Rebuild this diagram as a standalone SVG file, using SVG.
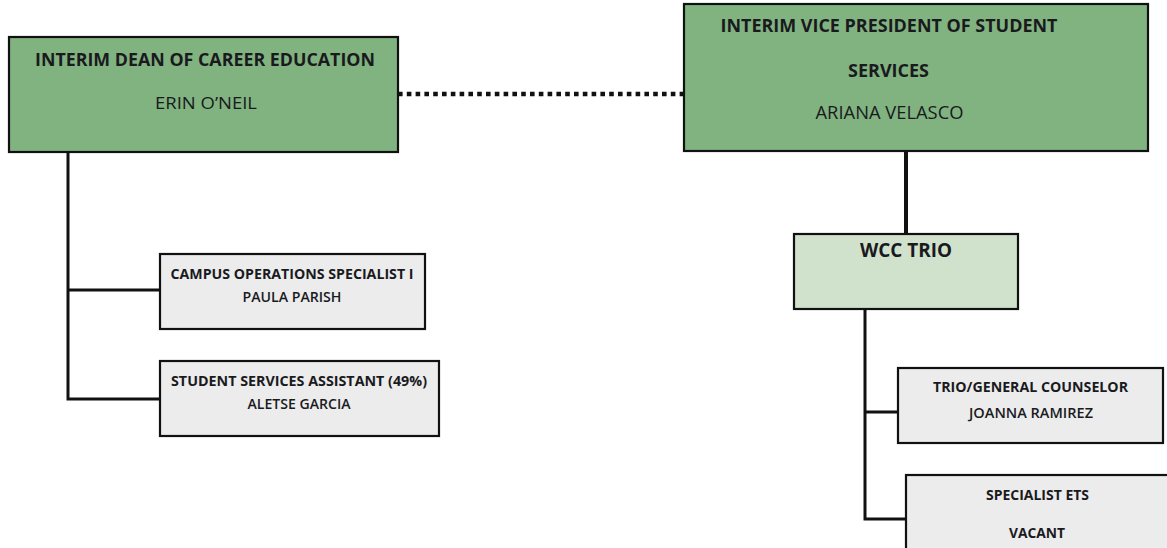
<svg xmlns="http://www.w3.org/2000/svg" width="1167" height="548" viewBox="0 0 1167 548">
  <style>
    .box { stroke: #111; stroke-width: 2.2; }
    .lead { fill: #80b380; }
    .unit { fill: #d0e2cc; }
    .staff { fill: #ececec; }
    text { font-family: "Open Sans", "Liberation Sans", sans-serif; fill: #1a1a1e; text-anchor: middle; }
    .b { font-weight: bold; }
    .link { stroke: #111; fill: none; stroke-width: 3; }
    .dotted { stroke-width: 4.6; stroke-dasharray: 4.6 4.2; }
    .trunk { stroke-width: 4; }
  </style>
  <rect width="1167" height="548" fill="#fff"/>

  <g id="connectors">
    <line class="link dotted" x1="398" y1="94" x2="684" y2="94"/>
    <line class="link trunk" x1="906" y1="151" x2="906" y2="234"/>
    <polyline class="link" points="68,152 68,399 160,399"/>
    <line class="link" x1="68" y1="290" x2="160" y2="290"/>
    <polyline class="link" points="865,310 865,519 906,519"/>
    <line class="link" x1="865" y1="412" x2="898" y2="412"/>
  </g>

  <g id="dean-career-ed">
    <rect class="box lead" x="9" y="37" width="389" height="115"/>
    <text class="b" x="205" y="66" font-size="17.5" textLength="340" lengthAdjust="spacingAndGlyphs">INTERIM DEAN OF CAREER EDUCATION</text>
    <text x="206" y="109" font-size="17" textLength="102" lengthAdjust="spacingAndGlyphs">ERIN O’NEIL</text>
  </g>

  <g id="vp-student-services">
    <rect class="box lead" x="684" y="4" width="464" height="147"/>
    <text class="b" x="889" y="31.5" font-size="18" textLength="337" lengthAdjust="spacingAndGlyphs">INTERIM VICE PRESIDENT OF STUDENT</text>
    <text class="b" x="888.5" y="76.5" font-size="18" textLength="81" lengthAdjust="spacingAndGlyphs">SERVICES</text>
    <text x="889.5" y="118.5" font-size="18" textLength="148" lengthAdjust="spacingAndGlyphs">ARIANA VELASCO</text>
  </g>

  <g id="wcc-trio">
    <rect class="box unit" x="794" y="234" width="224" height="75"/>
    <text class="b" x="906" y="257" font-size="19" textLength="92" lengthAdjust="spacingAndGlyphs">WCC TRIO</text>
  </g>

  <g id="campus-ops">
    <rect class="box staff" x="160" y="254" width="265" height="75"/>
    <text class="b" x="292" y="279" font-size="14" textLength="243" lengthAdjust="spacingAndGlyphs">CAMPUS OPERATIONS SPECIALIST I</text>
    <text x="292" y="302.3" font-size="14.5" font-weight="600" textLength="99" lengthAdjust="spacingAndGlyphs">PAULA PARISH</text>
  </g>

  <g id="student-services-assistant">
    <rect class="box staff" x="160" y="361" width="279" height="75"/>
    <text class="b" x="299" y="385.5" font-size="14.5" textLength="256" lengthAdjust="spacingAndGlyphs">STUDENT SERVICES ASSISTANT (49%)</text>
    <text x="299" y="409.3" font-size="14.5" font-weight="600" textLength="103" lengthAdjust="spacingAndGlyphs">ALETSE GARCIA</text>
  </g>

  <g id="trio-counselor">
    <rect class="box staff" x="898" y="368" width="265" height="75"/>
    <text class="b" x="1030.5" y="392.3" font-size="14.5" textLength="195" lengthAdjust="spacingAndGlyphs">TRIO/GENERAL COUNSELOR</text>
    <text x="1031" y="417.5" font-size="14.5" font-weight="600" textLength="124" lengthAdjust="spacingAndGlyphs">JOANNA RAMIREZ</text>
  </g>

  <g id="specialist-ets">
    <rect class="box staff" x="906" y="475" width="270" height="90"/>
    <text class="b" x="1037.5" y="500" font-size="14.5" textLength="103" lengthAdjust="spacingAndGlyphs">SPECIALIST ETS</text>
    <text class="b" x="1037" y="537.7" font-size="14.5" textLength="56" lengthAdjust="spacingAndGlyphs">VACANT</text>
  </g>
</svg>
